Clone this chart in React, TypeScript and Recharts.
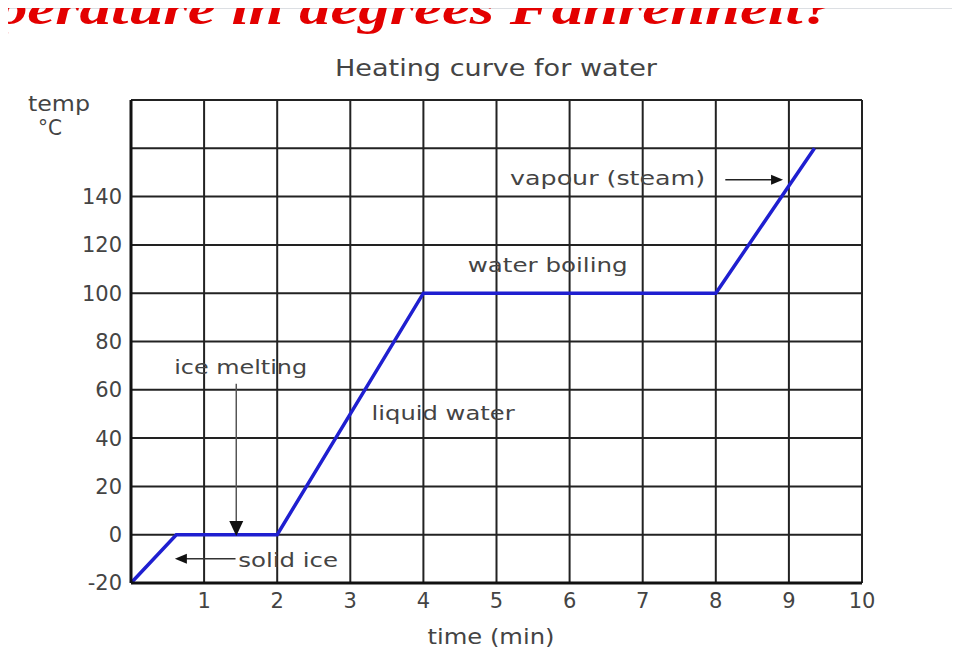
import React from 'react'
import { LineChart, Line, XAxis, YAxis, CartesianGrid, ReferenceLine, ReferenceDot } from 'recharts'

// heating curve readings (time in min, temp in °C)
const times = [0, 0.62, 2, 4, 8, 9.35]
const temps = [-20, 0, 0, 100, 100, 160]

const xTicks = [1, 2, 3, 4, 5, 6, 7, 8, 9, 10]
const yTicks = [-20, 0, 20, 40, 60, 80, 100, 120, 140, 160, 180]
const yLabelled = [-20, 0, 20, 40, 60, 80, 100, 120, 140]

const notes = [
  { text: 'vapour (steam)', x: 6.52, y: 147.5, w: 195 },
  { text: 'water boiling', x: 5.7, y: 111.5, w: 160 },
  { text: 'ice melting', x: 1.5, y: 69.5, w: 133 },
  { text: 'liquid water', x: 4.27, y: 50.5, w: 143 },
  { text: 'solid ice', x: 2.15, y: -10.5, w: 100 },
]

const data = times.map((t, i) => ({ t, temp: temps[i] }))

const font = '"DejaVu Sans", Verdana, sans-serif'
const ink = '#444'

const Note = ({ cx, cy, text, w }: any) => (
  <text x={cx} y={cy} textAnchor="middle" dominantBaseline="central" fill={ink} fontFamily={font} fontSize={19} textLength={w} lengthAdjust="spacingAndGlyphs">
    {text}
  </text>
)

const Head = ({ cx, cy, dir }: any) => {
  let pts = ''
  if (dir === 'right') pts = `${cx},${cy} ${cx - 12},${cy - 5} ${cx - 12},${cy + 5}`
  if (dir === 'left') pts = `${cx},${cy} ${cx + 12},${cy - 5} ${cx + 12},${cy + 5}`
  if (dir === 'down') pts = `${cx},${cy} ${cx - 7},${cy - 15} ${cx + 7},${cy - 15}`
  return <polygon points={pts} fill="#111" />
}

export default function App() {
  return (
    <div style={{ position: 'relative', width: 960, height: 671, margin: -8, background: '#fff', overflow: 'hidden', fontFamily: font }}>
      {/* slide background bits */}
      <div style={{ position: 'absolute', left: 0, top: 0, width: 960, height: 9, background: '#dcdfe3' }} />
      <div style={{ position: 'absolute', left: 0, top: 0, width: 3, height: 671, background: '#dcdfe3' }} />
      <svg width={960} height={671} style={{ position: 'absolute', left: 0, top: 0 }}>
        <text x={-4} y={24} fill="#e30000" fontFamily='"Liberation Serif", "Times New Roman", serif' fontWeight="bold" fontStyle="italic" fontSize={46} textLength={838} lengthAdjust="spacingAndGlyphs">
          perature in degrees Fahrenheit?
        </text>
        <text x={496} y={68} textAnchor="middle" dominantBaseline="central" fill={ink} fontFamily={font} fontSize={23} textLength={322} lengthAdjust="spacingAndGlyphs">
          Heating curve for water
        </text>
        <text x={28} y={104} dominantBaseline="central" fill={ink} fontFamily={font} fontSize={21} textLength={62} lengthAdjust="spacingAndGlyphs">
          temp
        </text>
        <text x={38} y={128} dominantBaseline="central" fill={ink} fontFamily={font} fontSize={21} textLength={24} lengthAdjust="spacingAndGlyphs">
          °C
        </text>
        <text x={491} y={637} textAnchor="middle" dominantBaseline="central" fill={ink} fontFamily={font} fontSize={21} textLength={127} lengthAdjust="spacingAndGlyphs">
          time (min)
        </text>
      </svg>

      <LineChart width={960} height={671} data={data} margin={{ top: 100, right: 98, bottom: 58, left: 71 }} style={{ position: 'absolute', left: 0, top: 0 }}>
        <CartesianGrid stroke="#222" strokeWidth={2} />
        <XAxis
          dataKey="t"
          type="number"
          domain={[0, 10]}
          ticks={xTicks}
          height={30}
          tickSize={0}
          tickMargin={10}
          axisLine={{ stroke: '#111', strokeWidth: 3 }}
          tick={{ fill: ink, fontSize: 21, fontFamily: font }}
        />
        <YAxis
          type="number"
          domain={[-20, 180]}
          ticks={yTicks}
          width={60}
          tickSize={0}
          tickMargin={9}
          tickFormatter={(v: number) => (yLabelled.includes(v) ? String(v) : '')}
          axisLine={{ stroke: '#111', strokeWidth: 3 }}
          tick={{ fill: ink, fontSize: 21, fontFamily: font }}
        />
        <ReferenceLine y={180} stroke="#222" strokeWidth={2} />
        <ReferenceLine x={10} stroke="#222" strokeWidth={2} />

        {/* arrows */}
        <ReferenceLine segment={[{ x: 8.13, y: 147 }, { x: 8.85, y: 147 }]} stroke="#222" strokeWidth={1.5} />
        <ReferenceDot x={8.92} y={147} r={0} shape={(p: any) => <Head {...p} dir="right" />} />
        <ReferenceLine segment={[{ x: 1.44, y: 62.5 }, { x: 1.44, y: 4 }]} stroke="#555" strokeWidth={1.5} />
        <ReferenceDot x={1.44} y={-0.5} r={0} shape={(p: any) => <Head {...p} dir="down" />} />
        <ReferenceLine segment={[{ x: 0.7, y: -10 }, { x: 1.43, y: -10 }]} stroke="#333" strokeWidth={1.5} />
        <ReferenceDot x={0.6} y={-10} r={0} shape={(p: any) => <Head {...p} dir="left" />} />

        {notes.map(n => (
          <ReferenceDot key={n.text} x={n.x} y={n.y} r={0} shape={(p: any) => <Note {...p} text={n.text} w={n.w} />} />
        ))}

        <Line type="linear" dataKey="temp" stroke="#1f1fd0" strokeWidth={3.5} dot={false} isAnimationActive={false} />
      </LineChart>
    </div>
  )
}
